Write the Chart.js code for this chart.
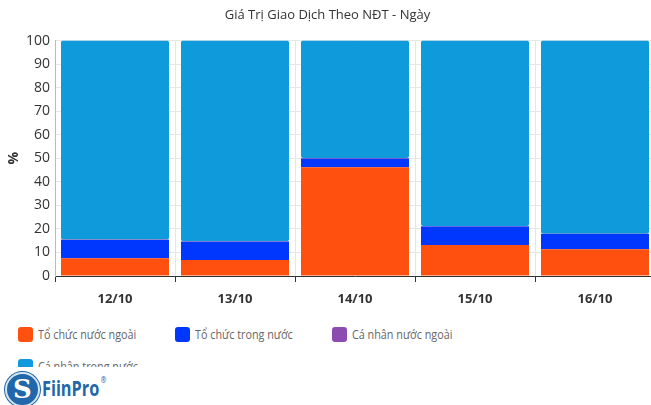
<!DOCTYPE html>
<html>
<head>
<meta charset="utf-8">
<script src="https://cdn.jsdelivr.net/npm/chart.js@4"></script>
<style>
  html, body { margin:0; padding:0; background:#fff; overflow:hidden; width:651px; height:405px; }
  #wrap { position:absolute; left:0; top:0; width:674px; height:312px; }
  .leg { position:absolute; height:15px; white-space:nowrap; }
  .leg i { position:absolute; left:0; top:0; width:15px; height:15px; border-radius:3px; }
  .leg span { position:absolute; left:20px; top:-2px; font:13.5px "Open Sans", sans-serif; color:#666; line-height:18px;
    transform:scaleX(0.8); transform-origin:left center; }
  #logo { position:absolute; left:0; top:367px; width:651px; height:38px; background:#fff; }
  #logo .ico { position:absolute; left:5px; top:5px; width:31px; height:31px; border-radius:50%;
    background:#2167a9; border:2px solid #d6e5f2; box-shadow:0 0 0 1px #2167a9;
    color:#fff; font:bold 26px "DejaVu Serif", serif; text-align:center; line-height:31px; }
  #logo .txt { position:absolute; left:42px; top:5px; font:bold 22px "Open Sans", sans-serif; color:#2167a9;
    transform:scaleX(0.74); transform-origin:left center; }
  #logo sup { font-size:9px; font-weight:normal; vertical-align:top; position:relative; top:1px; left:2px; }
</style>
</head>
<body>
<div id="wrap"><canvas id="c" width="674" height="312"></canvas></div>
<div id="legend"></div>
<div id="logo"><div class="ico">S</div><div class="txt">FiinPro<sup>®</sup></div></div>
<script>
// dữ liệu (%)
const categories = ["12/10", "13/10", "14/10", "15/10", "16/10"];
const orgForeign = [7.5, 6.8, 46.2, 13.2, 11.4];     // Tổ chức nước ngoài
const orgDomestic = [7.8, 7.8, 3.6, 7.8, 6.4];       // Tổ chức trong nước
const indivForeign = [0.2, 0.2, 0.3, 0.2, 0.2];      // Cá nhân nước ngoài
const indivDomestic = [84.5, 85.2, 49.9, 78.8, 82.0]; // Cá nhân trong nước
const yTicks = [0, 10, 20, 30, 40, 50, 60, 70, 80, 90, 100];

const series = [
  { label: "Tổ chức nước ngoài", data: orgForeign, color: "#ff5010" },
  { label: "Tổ chức trong nước", data: orgDomestic, color: "#0037ff" },
  { label: "Cá nhân nước ngoài", data: indivForeign, color: "#8b4bb0" },
  { label: "Cá nhân trong nước", data: indivDomestic, color: "#0e9adb" }
];

new Chart(document.getElementById("c"), {
  type: "bar",
  data: {
    labels: categories,
    datasets: series.map(s => ({
      label: s.label,
      data: s.data,
      backgroundColor: s.color,
      borderWidth: 0,
      borderRadius: 2,
      borderSkipped: false,
      barPercentage: 0.9,
      categoryPercentage: 1
    }))
  },
  options: {
    responsive: false,
    animation: false,
    devicePixelRatio: 1,
    layout: { padding: { left: 0, right: 19, top: 0, bottom: 0 } },
    plugins: {
      legend: { display: false },
      tooltip: { enabled: false },
      title: {
        display: true,
        text: "Giá Trị Giao Dịch Theo NĐT - Ngày",
        color: "#333",
        font: { family: "'Open Sans', sans-serif", size: 13, weight: "normal" },
        padding: { top: 7, bottom: 18 }
      }
    },
    scales: {
      x: {
        stacked: true,
        grid: { color: "#e6e6e6", tickColor: "#333", tickLength: 6, offset: true },
        border: { color: "#333" },
        ticks: { color: "#333", padding: 9, font: { family: "'Open Sans', sans-serif", size: 13, weight: "bold" } },
        afterFit: s => { s.height = 36; }
      },
      y: {
        stacked: true,
        min: 0,
        max: 100,
        afterBuildTicks: s => { s.ticks = yTicks.map(v => ({ value: v })); },
        grid: { color: "#e6e6e6", drawTicks: false },
        border: { color: "#bbb" },
        ticks: { color: "#333", padding: 5, font: { family: "'Open Sans', sans-serif", size: 14 } },
        title: { display: true, text: "%", color: "#333", padding: { top: 6, bottom: 0 }, font: { family: "'Open Sans', sans-serif", size: 14, weight: "bold" } },
        afterFit: s => { s.width = 55; }
      }
    }
  }
});

// chú thích
const legendPos = [[18, 327], [175, 327], [332, 327], [18, 359]];
document.getElementById("legend").innerHTML = series.map((s, i) =>
  `<div class="leg" style="left:${legendPos[i][0]}px;top:${legendPos[i][1]}px"><i style="background:${s.color}"></i><span>${s.label}</span></div>`
).join("");
</script>
</body>
</html>
